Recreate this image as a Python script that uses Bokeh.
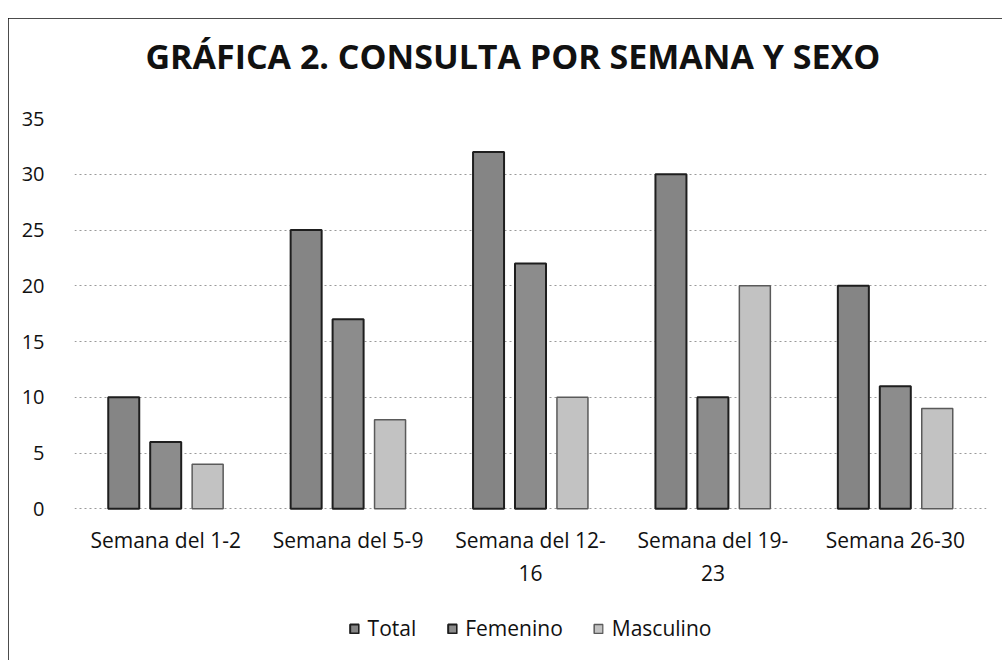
from bokeh.plotting import figure
from bokeh.models import ColumnDataSource, FactorRange, Range1d, Legend, LegendItem, FixedTicker
from bokeh.transform import dodge
from bokeh.embed import file_html
from bokeh.resources import INLINE

semanas = ["Semana del 1-2", "Semana del 5-9", "Semana del 12-\n16", "Semana del 19-\n23", "Semana 26-30"]
total = [10, 25, 32, 30, 20]
femenino = [6, 17, 22, 10, 11]
masculino = [4, 8, 10, 20, 9]
y_ticks = [0, 5, 10, 15, 20, 25, 30, 35]
titulo = "GRÁFICA 2. CONSULTA POR SEMANA Y SEXO"

source = ColumnDataSource(dict(semana=semanas, total=total, femenino=femenino, masculino=masculino))

FONT = "Open Sans"
# lower part of the frame (below 0) holds the category labels and the legend
p = figure(x_range=FactorRange(*semanas), y_range=Range1d(-12.7, 35),
           frame_width=912, frame_height=532,
           output_backend="svg", toolbar_location=None,
           min_border_left=66, min_border_right=16, min_border_top=100, min_border_bottom=10)
p.margin = (18, 0, 0, 8)
p.styles = {"outline": "2px solid #111111", "outline-offset": "-2px"}
p.background_fill_color = "white"
p.border_fill_color = "white"
p.outline_line_color = None

r1 = p.vbar(x=dodge("semana", -0.23, range=p.x_range), top="total", width=0.17, source=source,
            fill_color="#858585", line_color="#1e1e1e", line_width=2)
r2 = p.vbar(x=dodge("semana", 0.0, range=p.x_range), top="femenino", width=0.17, source=source,
            fill_color="#8c8c8c", line_color="#1e1e1e", line_width=2)
r3 = p.vbar(x=dodge("semana", 0.23, range=p.x_range), top="masculino", width=0.17, source=source,
            fill_color="#c2c2c2", line_color="#5a5a5a", line_width=1.5)

p.title.text = titulo + "\n "
p.title.align = "left"
p.title.offset = 71
p.title.text_font = FONT
p.title.text_font_size = "34px"
p.title.text_font_style = "bold"
p.title.text_color = "#111111"
p.title.text_line_height = 0.8
p.title.standoff = 6

p.yaxis.ticker = FixedTicker(ticks=y_ticks)
p.yaxis.axis_line_color = None
p.yaxis.major_tick_line_color = None
p.yaxis.minor_tick_line_color = None
p.yaxis.major_label_standoff = 24
p.yaxis.major_label_text_font = FONT
p.yaxis.major_label_text_font_size = "20px"
p.yaxis.major_label_text_color = "#111111"

p.xaxis.fixed_location = 0
p.xaxis.axis_line_color = None
p.xaxis.major_tick_line_color = None
p.xaxis.minor_tick_line_color = None
p.xaxis.major_label_standoff = 11
p.xaxis.major_label_text_font = FONT
p.xaxis.major_label_text_font_size = "21px"
p.xaxis.major_label_text_color = "#111111"

p.xgrid.visible = False
p.ygrid.grid_line_color = "#9a9a9a"
p.ygrid.grid_line_dash = "2 3"
p.ygrid.grid_line_width = 1

legend = Legend(items=[LegendItem(label="Total", renderers=[r1]),
                       LegendItem(label="Femenino", renderers=[r2]),
                       LegendItem(label="Masculino", renderers=[r3])],
                orientation="horizontal", location="bottom_center")
legend.label_text_font = FONT
legend.label_text_font_size = "21px"
legend.label_text_color = "#111111"
legend.glyph_width = 11
legend.glyph_height = 11
legend.label_standoff = 8
legend.spacing = 30
legend.border_line_color = None
legend.background_fill_alpha = 0
legend.margin = 8
legend.padding = 0
p.add_layout(legend, "center")

open("out.html", "w").write(file_html(p, INLINE))
